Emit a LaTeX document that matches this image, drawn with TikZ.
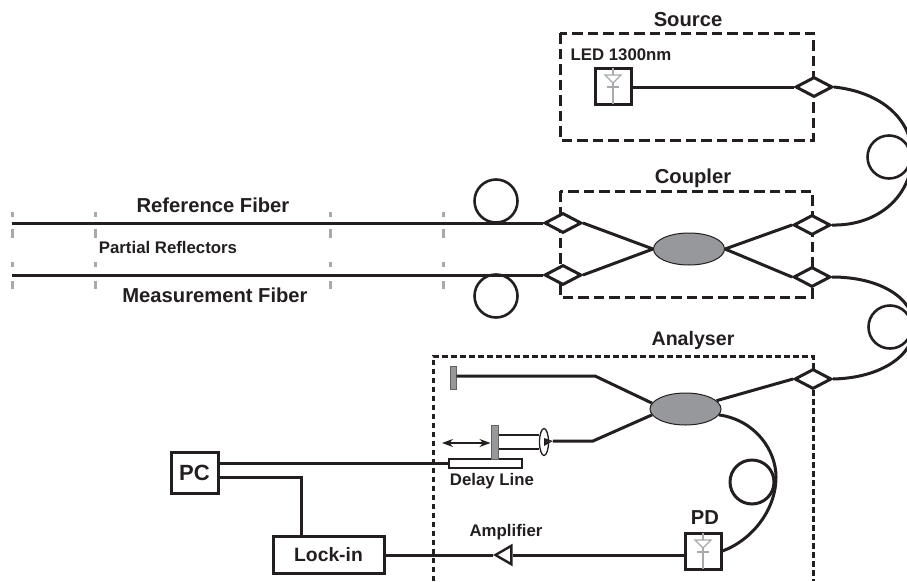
\documentclass[tikz,border=0pt]{standalone}
\usepackage{fontspec}
\setmainfont{Liberation Sans}
\usetikzlibrary{shapes.geometric,arrows.meta}
\definecolor{ink}{HTML}{231F20}
\definecolor{midgray}{HTML}{97989C}
\definecolor{tick}{HTML}{A7A9AC}
\tikzset{
  fiber/.style={draw=ink,line width=3pt},
  thinfiber/.style={draw=ink,line width=1.6pt},
  splitter/.style={diamond,aspect=1.9,draw=ink,fill=white,line width=3pt,minimum width=37pt,minimum height=20pt,inner sep=0pt},
  blob/.style={ellipse,draw=ink,fill=midgray,line width=1pt,minimum width=71pt,minimum height=32pt,inner sep=0pt},
  unitbox/.style={rectangle,draw=ink,fill=white,line width=3pt,inner sep=0pt},
  sectionbox/.style={draw=ink,line width=3pt,dash pattern=on 10.5pt off 5pt},
  analyserbox/.style={draw=ink,line width=3pt,dash pattern=on 5.5pt off 3.5pt},
  reflector/.style={draw=tick,line width=3pt},
  bigtext/.style={font=\fontsize{20.2}{23}\selectfont\bfseries,text=ink,inner sep=0pt},
  midtext/.style={font=\fontsize{16.8}{19}\selectfont\bfseries,text=ink,inner sep=0pt},
  diodeline/.style={draw=tick,line width=1.2pt}
}
\newcommand{\diodeat}[2]{%
  \draw[diodeline] (#1,#2-18) -- (#1,#2+18);
  \draw[diodeline,fill=white] (#1-8,#2-11) -- (#1+8,#2-11) -- (#1,#2-3) -- cycle;
  \draw[diodeline] (#1-6,#2+1) -- (#1+6,#2+1);
}
\begin{document}
\begin{tikzpicture}[x=1pt,y=-1pt]
\clip (0,0) rectangle (907,581);
% dashed frames
\draw[sectionbox] (560,33) rectangle (813,140);
\draw[sectionbox] (560,191) rectangle (812,297);
\draw[analyserbox] (433,581) -- (433,356) -- (813,356) -- (813,581);
% reflectors
\foreach \x in {12,95,330,443}{
  \draw[reflector] (\x,212) -- (\x,217);
  \draw[reflector] (\x,229) -- (\x,238);
  \draw[reflector] (\x,262) -- (\x,267);
  \draw[reflector] (\x,281) -- (\x,289);
}
% nodes
\node[splitter] (ds) at (814,87) {};
\node[splitter] (dcl1) at (563,223) {};
\node[splitter] (dcl2) at (563,275) {};
\node[splitter] (dcr1) at (812,225) {};
\node[splitter] (dcr2) at (812,277) {};
\node[splitter] (da) at (813,379) {};
\node[blob] (cpl) at (689,249) {};
\node[blob] (ana) at (685.5,409) {};
\node[unitbox,minimum width=36pt,minimum height=36pt] (led) at (613,86) {};
\node[unitbox,minimum width=36pt,minimum height=36pt] (pd) at (703,551) {};
\node[unitbox,minimum width=47pt,minimum height=41pt] (pc) at (194.5,472.5) {};
\node[unitbox,minimum width=111pt,minimum height=37pt] (lock) at (328.5,555) {};
\node[unitbox,line width=2.4pt,minimum width=73pt,minimum height=9pt] (delay) at (485.5,463.5) {};
\node[isosceles triangle,isosceles triangle apex angle=60,shape border rotate=180,draw=ink,fill=white,line width=2.4pt,minimum height=16pt,inner sep=0pt,minimum width=18pt,anchor=apex] (amp) at (493,555) {};
\node[rectangle,draw=ink!70,fill=midgray,line width=1pt,minimum width=6pt,minimum height=23pt,inner sep=0pt] (mtop) at (453,377.5) {};
\node[rectangle,draw=ink!70,fill=midgray,line width=1pt,minimum width=7pt,minimum height=34pt,inner sep=0pt] (mmov) at (494.5,442) {};
\node[ellipse,draw=ink,fill=white,line width=1.3pt,minimum width=9pt,minimum height=27pt,inner sep=0pt] (lens) at (544,442) {};
\node[circle,draw=ink,line width=2.6pt,minimum size=43pt,inner sep=0pt] (c1) at (496,201) {};
\node[circle,draw=ink,line width=2.6pt,minimum size=43pt,inner sep=0pt] (c2) at (496,296) {};
\node[circle,draw=ink,line width=2.6pt,minimum size=43pt,inner sep=0pt] (c3) at (889,157) {};
\node[circle,draw=ink,line width=2.6pt,minimum size=43pt,inner sep=0pt] (c4) at (890,327) {};
\node[circle,draw=ink,line width=3pt,minimum size=44pt,inner sep=0pt] (c5) at (752,482) {};
\coordinate (rf0) at (12,223);
\coordinate (mf0) at (12,275);
\coordinate (k1) at (595,376);
\coordinate (k2) at (593,441);
\coordinate (k3) at (553,441);
\coordinate (k4) at (301,477);
\coordinate (pcr) at (218,477);
\coordinate (al) at (442,443);
% diode symbols
\diodeat{613}{86}
\diodeat{703}{551}
% connectors
\draw[fiber] (led.east |- ds.west) -- (ds.west);
\draw[fiber] (rf0) -- (dcl1.west);
\draw[fiber] (mf0) -- (dcl2.west);
\draw[fiber] (dcl1.east) -- (cpl.west);
\draw[fiber] (dcl2.east) -- (cpl.west);
\draw[fiber] (cpl.east) -- (dcr1.west);
\draw[fiber] (cpl.east) -- (dcr2.west);
\draw[fiber] (ds.east) .. controls (880,92) and (912,118) .. (912,156) .. controls (912,194) and (880,226) .. (dcr1.east);
\draw[fiber] (dcr2.east) .. controls (880,277) and (914,298) .. (914,327) .. controls (914,356) and (880,378) .. (da.east);
\draw[fiber] (da.west) -- (ana.15);
\draw[fiber] (ana.-10) .. controls (755,420) and (776,450) .. (776,477) .. controls (776,510) and (752,540) .. (pd.east);
\draw[fiber] (mtop.east |- k1) -- (k1) -- (ana.170);
\draw[fiber] (k3) -- (k2) -- (ana.190);
\draw[thinfiber] (mmov.east |- 0,435) -- (lens.west |- 0,435);
\draw[thinfiber] (mmov.east |- 0,449) -- (lens.west |- 0,449);
\fill[ink] (lens.center) -- (k3) -- (544,446) -- cycle;
\fill[ink] (lens.center) -- (k3) -- (544,438) -- cycle;
\draw[fiber] (pd.west |- amp.east) -- (amp.east);
\draw[fiber] (amp.apex) -- (lock.east);
\draw[fiber] (pc.east |- delay.west) -- (delay.west);
\draw[fiber] (pcr) -- (k4) -- (k4 |- lock.north);
\draw[draw=ink,line width=1.2pt,{Stealth[length=11pt,width=8pt]}-{Stealth[length=11pt,width=8pt]}] (al) -- (mmov.west |- al);
% labels
\node[bigtext] (tsrc) at (688,20) {Source};
\node[bigtext] (tcpl) at (693,178) {Coupler};
\node[font=\fontsize{19.6}{22}\selectfont\bfseries,text=ink,inner sep=0pt] (tana) at (693,340) {Analyser};
\node[midtext] (tled) at (621,55) {LED 1300nm};
\node[bigtext] (tref) at (213,205) {Reference Fiber};
\node[midtext] (tpar) at (168,247) {Partial Reflectors};
\node[bigtext] (tmea) at (215,295) {Measurement Fiber};
\node[midtext] (tdel) at (492,481) {Delay Line};
\node[midtext] (tamp) at (506,532) {Amplifier};
\node[bigtext] (tpd) at (705,518) {PD};
\node[font=\fontsize{22}{25}\selectfont\bfseries,text=ink,inner sep=0pt] at (pc) {PC};
\node[font=\fontsize{19.3}{22}\selectfont\bfseries,text=ink,inner sep=0pt] at (lock) {Lock-in};
\end{tikzpicture}
\end{document}
